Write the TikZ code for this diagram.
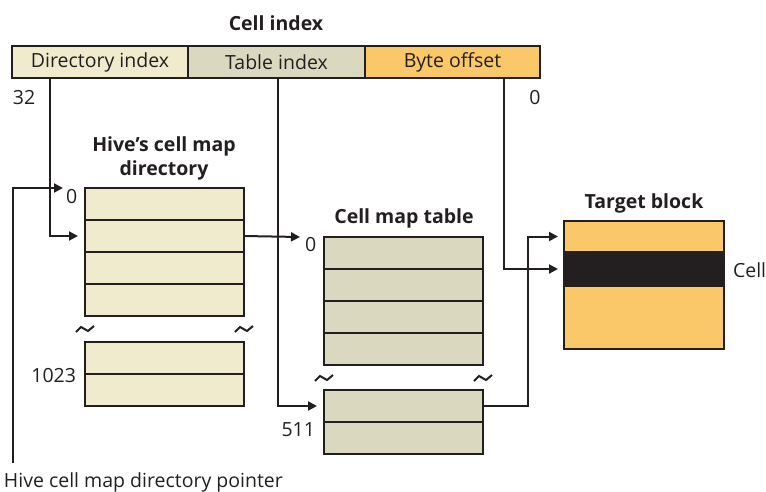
\documentclass[tikz,border=0pt]{standalone}
\usepackage{fontspec}
\setmainfont{Open Sans}
\usetikzlibrary{arrows.meta}

\definecolor{dircol}{HTML}{F0EBCD}
\definecolor{tabcol}{HTML}{DAD9BF}
\definecolor{bytecol}{HTML}{FAC869}
\definecolor{inkcol}{HTML}{231F20}

\begin{document}
\begin{tikzpicture}[x=1pt,y=-1pt,
  line width=2pt,draw=inkcol,
  >={Triangle[length=9pt,width=9pt]},
  every node/.style={font=\fontsize{19.5}{24}\selectfont,text=inkcol},
  title/.style={font=\fontsize{19.5}{24}\selectfont\bfseries,align=center},
  field/.style={draw,minimum height=32,inner sep=0,outer sep=0},
  dirrow/.style={draw,fill=dircol,minimum width=159,minimum height=32,inner sep=0,outer sep=0},
  tabrow/.style={draw,fill=tabcol,minimum width=159,minimum height=32,inner sep=0,outer sep=0},
  blkrow/.style={draw,fill=bytecol,minimum width=160,inner sep=0,outer sep=0}]

\useasboundingbox (0,0) rectangle (766,491);

% cell index
\node[title]
(CI)
at (276,23)
{Cell index};

\node[field,fill=dircol,minimum width=176]
(DI)
at (100,62)
{Directory index};

\node[field,fill=tabcol,minimum width=177]
(TI)
at (276.5,62)
{Table index};

\node[field,fill=bytecol,minimum width=175]
(BO)
at (452.5,62)
{Byte offset};

\node (B32) at (24,98) {32};
\node (B0) at (535,98) {0};

\coordinate (DIbit) at (50,78);
\coordinate (TIbit) at (278,78);
\coordinate (BObit) at (504,78);

% hive's cell map directory
\node[title]
(HD)
at (164,158)
{Hive’s cell map\\directory};

\node[dirrow] (D1) at (164.5,204) {};
\node[dirrow] (D2) at (164.5,236) {};
\node[dirrow] (D3) at (164.5,268) {};
\node[dirrow] (D4) at (164.5,300) {};
\node[dirrow] (D5) at (164.5,358) {};
\node[dirrow] (D6) at (164.5,390) {};

\node[anchor=west,inner sep=0] (D0lab) at (65,197) {0};
\node[anchor=east,inner sep=0] (D1023) at (77,376) {1023};

% cell map table
\node[title]
(CT)
at (404,218)
{Cell map table};

\node[tabrow] (T1) at (403.5,253) {};
\node[tabrow] (T2) at (403.5,285) {};
\node[tabrow] (T3) at (403.5,317) {};
\node[tabrow] (T4) at (403.5,349) {};
\node[tabrow] (T5) at (403.5,406) {};
\node[tabrow] (T6) at (403.5,438) {};

\node[anchor=west,inner sep=0] (T0lab) at (304,245) {0};
\node[anchor=east,inner sep=0] (T511) at (316,430) {511};

% target block
\node[title]
(TB)
at (644,203)
{Target block};

\node[blkrow,minimum height=31] (BK1) at (644,236.5) {};
\node[draw,fill=inkcol,minimum width=160,minimum height=34,inner sep=0,outer sep=0] (CL) at (644,269) {};
\node[blkrow,minimum height=63] (BK2) at (644,317.5) {};

\node[anchor=west,inner sep=0] (CLlab) at (732,270) {Cell};

% pointer
\coordinate (PTR) at (13,463);

\node[anchor=west,inner sep=0]
(PL)
at (3,482)
{Hive cell map directory pointer};

% breaks
\draw[line width=2pt] (85,329) ++(-9,3) -- ++(5,-5) -- ++(7,4) -- ++(6,-5);
\draw[line width=2pt] (244,329) ++(-9,3) -- ++(5,-5) -- ++(7,4) -- ++(6,-5);
\draw[line width=2pt] (324,378) ++(-9,3) -- ++(5,-5) -- ++(7,4) -- ++(6,-5);
\draw[line width=2pt] (483,378) ++(-9,3) -- ++(5,-5) -- ++(7,4) -- ++(6,-5);

% connectors
\draw[->] (DIbit) |- ([xshift=-7]D2.west);
\draw[->] (TIbit) |- ([xshift=-7]T5.west);
\draw[->] (BObit) |- ([xshift=-6]CL.west);
\draw[->] (D2.east) -- ([xshift=-24]T1.north west);
\draw[->] (T5.east) -- ++(45,0) |- ([xshift=-6]BK1.west);
\draw[->] (PTR) |- ([xshift=-22]D1.north west);

\end{tikzpicture}
\end{document}
